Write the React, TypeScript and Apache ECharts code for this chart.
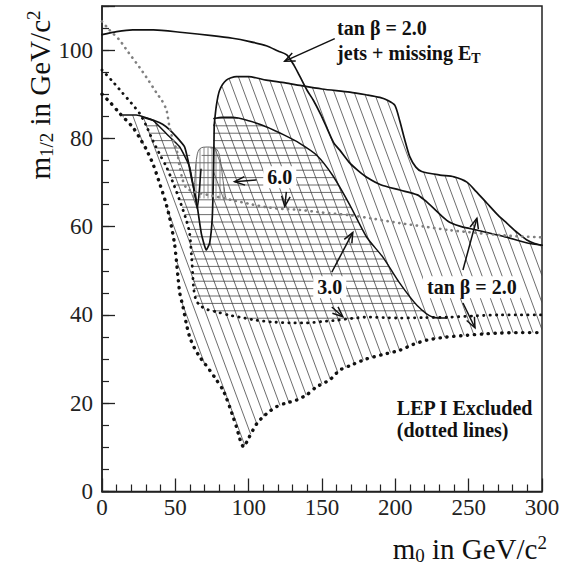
import React, { useEffect, useRef } from "react";
import * as echarts from "echarts";

type P = [number, number];

// ---------- data (m0, m1/2) in GeV/c^2 ----------
const xTickValues = [0, 50, 100, 150, 200, 250, 300];
const yTickValues = [0, 20, 40, 60, 80, 100];

// tan beta = 2.0, jets + missing ET limit
const jetsLimit: P[] = [
  [0, 103.5], [10, 104.2], [21, 104.6], [35, 104.6], [55, 104], [75, 103.3], [89, 102.7],
  [100, 102], [112, 101], [120, 99.8], [126, 98.9], [131, 96.5], [135, 94], [140, 90.8],
  [144, 88.7], [149, 85.5], [153, 82.6], [158, 79], [162, 77.4], [169, 74.4], [175, 72.6],
  [180.5, 71.2], [190, 69.5], [203, 68.3], [215, 67.2], [220, 66], [226, 64.2], [232, 62.3],
  [237, 61], [245, 60], [256, 59.2], [266, 58.4], [276, 57.6], [290, 56.3], [300, 55.8],
];

// upper boundary of the diagonal-hatched region
const hatchTop: P[] = [
  [76.5, 83], [78, 87.5], [80.2, 90.9], [84.8, 93.2], [91.6, 94], [100, 94], [112, 93.2],
  [125, 92.6], [135, 92], [150, 91.2], [169, 90.5], [180, 89.9], [189.4, 89.3], [195, 88.6],
  [199.7, 87.5], [203, 84], [206.5, 79.6], [209.9, 75.8], [214, 73.5], [218, 72.5],
  [230.4, 71.7], [240, 71.3], [248.8, 70.1], [255, 68], [262.5, 65.3], [270, 62.6],
  [276, 60.8], [283, 58.7], [289.7, 57], [295, 56.2], [300, 55.8],
];

// deep dip curve
const dipCurve: P[] = [
  [30, 84.6], [36, 84], [41.3, 83.2], [46, 82], [50.6, 80.4], [56.3, 78.1], [58.6, 75.1],
  [61, 71], [64.3, 66], [67.7, 58.5], [71.1, 54.7], [73.4, 56.3], [75.2, 62.2], [76.1, 73.6],
  [76.5, 83],
];

// left curve with the small dip
const leftCurve: P[] = [
  [14.2, 85.3], [23.3, 85.3], [34.7, 84.1], [43.8, 81.1], [52.9, 78.1], [59.7, 73.6],
  [63.1, 67.5], [65, 64.1], [66.3, 68], [67.5, 73],
];

// tan beta = 3.0 curve
const tb3Curve: P[] = [
  [76.3, 84.5], [82, 84.8], [89, 84.8], [100, 84], [112.3, 82.6], [124, 80.8], [134.8, 78.9],
  [146.4, 76.2], [157.3, 71.6], [169, 64.9], [180.5, 57.6], [191.5, 53.1], [203, 47.2],
  [214.7, 42.2], [225.6, 39.5], [235.2, 39.3],
];

// tan beta = 6.0 small excluded bump
const bellCurve: P[] = [
  [62.5, 66.5], [63.2, 70], [64, 74], [65, 76.5], [66.5, 77.6], [69, 78], [75, 78],
  [78, 77.6], [79.8, 76.5], [81.2, 74], [82.5, 70.5], [83.8, 67.5], [84.7, 66.2],
];

// LEP I limits (dotted)
const lepGray: P[] = [
  [0, 106.5], [5, 104.6], [11.9, 102.3], [18, 99.5], [25.6, 96.1], [32, 93], [37.2, 90.3],
  [41, 88.5], [44, 86.4], [46, 82.6], [48.5, 79.5], [50.9, 77.4], [53, 73.5], [55, 70.6],
  [57, 69], [59.7, 68.3], [66.6, 67.6], [78, 66.8], [89, 66], [100, 65.2], [112.3, 64.4],
  [124, 64], [134.8, 63.8], [150, 63.2], [169, 62.6], [185, 61.8], [203, 60.8], [220, 60],
  [237.2, 59.2], [255, 58.6], [271.3, 58.1], [285, 57.8], [300, 57.6],
];
const lepMid: P[] = [
  [0, 95.5], [7, 93], [14, 90.3], [20, 88], [25.6, 85.7], [30, 83], [34.5, 79.6], [40, 76],
  [44, 73.5], [49, 69.5], [52.9, 66], [57, 62], [59.7, 58.6], [61, 53.5], [61.8, 49.5],
  [62.5, 46], [64, 43.5], [66.6, 42.2], [72, 41.2], [78, 40.7], [86, 40], [93.9, 39.5],
  [105, 38.8], [116.4, 38.4], [130, 38.2], [139.6, 38.2], [150, 38.5], [160, 38.8],
  [170, 39.2], [180.5, 39.5], [192, 39.4], [203, 39.3], [220, 39.4], [237, 39.5],
  [255, 39.8], [271, 40], [285, 40], [300, 40],
];
const lepLow: P[] = [
  [0, 90], [6, 88], [12, 85.7], [20.8, 82.6], [25, 80.5], [30.4, 77.4], [35, 74], [39.2, 69.9],
  [43, 66], [46, 62.2], [49.5, 56], [51.7, 49], [53, 45], [55.2, 41.9], [57.5, 38], [59.7, 35.1],
  [63, 32.5], [66.6, 30.5], [70, 29], [73.4, 27.5], [78, 25.3], [82.5, 23], [85, 21], [87, 19.2],
  [89.5, 16.8], [91.6, 14.7], [93.5, 12.5], [95, 10.9], [96.6, 10.1], [99.5, 11.8],
  [102.9, 13.9], [106, 15.6], [109.8, 16.9], [114, 18.1], [118.9, 19.2], [125, 20],
  [132.6, 20.7], [140, 22], [146.2, 23.7], [155.3, 25.3], [162.1, 27.5], [169, 28.5],
  [180, 30], [191, 31], [203, 32], [212, 33.3], [221.5, 34.3], [235, 35], [248.8, 35.4],
  [260, 35.7], [271, 35.9], [285, 36], [300, 36],
];

// annotations: arrows [x1, y1, x2(tip), y2(tip)] and labels
const arrows: number[][] = [
  [158.7, 102.6, 124.6, 97.5],
  [105.3, 70.6, 90.4, 70.2],
  [125.7, 67.9, 124.6, 64.6],
  [156.7, 49.7, 171, 58.7],
  [156.7, 41.8, 164.2, 39.6],
  [246.1, 50.2, 255.6, 61.9],
  [246.1, 42.7, 254.3, 37.1],
];
const labelPos: P[] = [
  [160.3, 105], [160.3, 99.3], [121.2, 71.2], [155.3, 46.3], [252.2, 46.3], [201, 18.9], [201, 13.9],
];
const labelText = [
  "tan β = 2.0",
  "{b|jets + missing E}{s|T}",
  "6.0",
  "3.0",
  "tan β = 2.0",
  "LEP I Excluded",
  "(dotted lines)",
];
const labelAlign = ["left", "left", "center", "center", "center", "left", "left"];
const labelBg = [false, false, true, true, true, false, false];

// ---------- helpers ----------
function hatch(poly: P[], mode: string, spacing: number, k = 0.37): number[][] {
  const u = (p: P) => (mode === "h" ? p[1] : mode === "v" ? p[0] : p[0] - k * p[1]);
  const s = (p: P) => (mode === "h" ? p[0] : p[1]);
  let umin = Infinity;
  let umax = -Infinity;
  poly.forEach((p) => {
    const v = u(p);
    umin = Math.min(umin, v);
    umax = Math.max(umax, v);
  });
  const segs: number[][] = [];
  for (let c = Math.ceil(umin / spacing) * spacing + 0.01; c <= umax; c += spacing) {
    const pts: P[] = [];
    for (let i = 0; i < poly.length; i++) {
      const a = poly[i];
      const b = poly[(i + 1) % poly.length];
      const ua = u(a);
      const ub = u(b);
      if ((ua <= c && ub > c) || (ub <= c && ua > c)) {
        const t = (c - ua) / (ub - ua);
        pts.push([a[0] + t * (b[0] - a[0]), a[1] + t * (b[1] - a[1])]);
      }
    }
    pts.sort((p, q) => s(p) - s(q));
    for (let i = 0; i + 1 < pts.length; i += 2) {
      segs.push([pts[i][0], pts[i][1], pts[i + 1][0], pts[i + 1][1]]);
    }
  }
  return segs;
}

function regionSeries(poly: P[], mode: string, spacing: number, z: number, color: string, outline?: string) {
  return {
    type: "custom",
    z,
    silent: true,
    clip: true,
    data: [[0, 0]],
    renderItem: (_params: any, api: any) => {
      const px: P[] = poly.map((p) => api.coord(p) as P);
      const segs = hatch(px, mode, spacing);
      const children: any[] = segs.map((s) => ({
        type: "line",
        shape: { x1: s[0], y1: s[1], x2: s[2], y2: s[3] },
        style: { stroke: color, lineWidth: 0.75 },
      }));
      if (outline) {
        children.push({
          type: "polyline",
          shape: { points: px, smooth: 0.3 },
          style: { stroke: outline, lineWidth: 1, fill: "none" },
        });
      }
      return { type: "group", children };
    },
  };
}

const diagRegion: P[] = [
  ...leftCurve.slice(0, 6),
  ...dipCurve.filter((p) => p[0] > 60),
  ...hatchTop.slice(1),
  ...lepLow.slice().reverse().filter((p) => p[0] >= 12),
];
const horizRegion: P[] = [
  [25.6, 85.4], [34.7, 84.1], [43.8, 81.1], [52.9, 78.1], [58, 76.5], [64, 75.5], [70, 76.5],
  [75.8, 78.5],
  ...tb3Curve,
  ...lepMid.slice().reverse().filter((p) => p[0] < 235 && p[0] > 25.6),
];

function lineSeries(data: P[], color: string, width: number, dash: any, z: number, smooth = 0.25) {
  return {
    type: "line",
    data,
    z,
    symbol: "none",
    smooth,
    silent: true,
    lineStyle: { color, width, type: dash, cap: "round", join: "round" },
  };
}

const SERIF = '"Liberation Serif", "Times New Roman", serif';
const titleRich = {
  m: { fontFamily: SERIF, fontSize: 29, fill: "#111" },
  s: { fontFamily: SERIF, fontSize: 19, padding: [13, 0, 0, 0], fill: "#111" },
  p: { fontFamily: SERIF, fontSize: 19, padding: [0, 0, 13, 0], fill: "#111" },
};

export default function App() {
  const ref = useRef<HTMLDivElement>(null);
  useEffect(() => {
    if (!ref.current) return;
    const chart = echarts.init(ref.current, undefined, { renderer: "svg" });
    const option: any = {
      animation: false,
      backgroundColor: "#fff",
      grid: {
        left: 102, right: 28, top: 6, bottom: 76.5,
        show: true, borderColor: "#222", borderWidth: 1.5, backgroundColor: "transparent",
      },
      xAxis: {
        type: "value", min: 0, max: 300, interval: 50,
        axisLine: { lineStyle: { color: "#222", width: 1.5 } },
        axisTick: { inside: true, length: 13, lineStyle: { color: "#222", width: 1.3 } },
        minorTick: { show: true, splitNumber: 5, length: 7, lineStyle: { color: "#222", width: 1.2 } },
        splitLine: { show: false },
        minorSplitLine: { show: false },
        axisLabel: {
          fontFamily: SERIF, fontSize: 23, color: "#222", margin: 4,
          formatter: (v: number) => (xTickValues.includes(v) ? String(v) : ""),
        },
      },
      yAxis: [
        {
          type: "value", min: 0, max: 110, interval: 20, position: "left",
          axisLine: { show: true, lineStyle: { color: "#222", width: 1.5 } },
          axisTick: { inside: true, length: 13, lineStyle: { color: "#222", width: 1.3 } },
          splitLine: { show: false },
          axisLabel: {
            fontFamily: SERIF, fontSize: 23, color: "#222", margin: 9,
            formatter: (v: number) => (yTickValues.includes(v) ? String(v) : ""),
          },
        },
        {
          type: "value", min: 0, max: 110, interval: 5, position: "left",
          axisLine: { show: false },
          axisTick: { inside: true, length: 7, lineStyle: { color: "#222", width: 1.2 } },
          splitLine: { show: false },
          axisLabel: { show: false },
        },
      ],
      graphic: [
        {
          type: "text", x: 547, y: 549,
          style: {
            text: "{m|m}{s|0}{m| in GeV/c}{p|2}", align: "right", verticalAlign: "middle", fill: "#111",
            rich: titleRich,
          },
        },
        {
          type: "text", x: 40, y: 95, rotation: Math.PI / 2,
          style: {
            text: "{m|m}{s|1/2}{m| in GeV/c}{p|2}", align: "center", verticalAlign: "middle", fill: "#111",
            rich: titleRich,
          },
        },
      ],
      series: [
        regionSeries(diagRegion, "d", 10, 1, "#3c3c3c"),
        regionSeries(horizRegion, "h", 7.4, 2, "#3c3c3c"),
        regionSeries(bellCurve, "v", 4, 3, "#666", "#666"),
        lineSeries(jetsLimit, "#111", 1.7, "solid", 5),
        lineSeries(hatchTop, "#111", 1.7, "solid", 5),
        lineSeries(dipCurve, "#111", 1.7, "solid", 5, 0.15),
        lineSeries(leftCurve, "#111", 1.5, "solid", 5, 0.15),
        lineSeries(tb3Curve, "#111", 1.5, "solid", 5),
        lineSeries(lepGray, "#808080", 2.6, [0.3, 5.6], 6),
        lineSeries(lepMid, "#111", 2.8, [0.3, 6], 6),
        lineSeries(lepLow, "#111", 3.4, [0.3, 6.6], 6),
        {
          type: "custom", z: 8, silent: true, clip: false,
          data: labelPos,
          renderItem: (params: any, api: any) => {
            const i = params.dataIndex;
            const p = api.coord(labelPos[i]);
            const isRich = labelText[i].indexOf("{b|") === 0;
            const style: any = {
              text: labelText[i],
              fontFamily: SERIF, fontSize: 20, fontWeight: "bold", fill: "#111",
              align: labelAlign[i], verticalAlign: "middle",
            };
            if (isRich) {
              style.rich = {
                b: { fontFamily: SERIF, fontSize: 20, fontWeight: "bold", fill: "#111" },
                s: { fontFamily: SERIF, fontSize: 14, fontWeight: "bold", fill: "#111", padding: [10, 0, 0, 0] },
              };
            }
            if (labelBg[i]) {
              style.backgroundColor = "#fff";
              style.padding = [1, 4, 1, 4];
            }
            return { type: "text", x: p[0], y: p[1], style };
          },
        },
        {
          type: "custom", z: 9, silent: true, clip: false,
          data: arrows,
          renderItem: (params: any, api: any) => {
            const a = arrows[params.dataIndex];
            const p1 = api.coord([a[0], a[1]]);
            const p2 = api.coord([a[2], a[3]]);
            const ang = Math.atan2(p2[1] - p1[1], p2[0] - p1[0]);
            const L = 11;
            const w = 0.4;
            const h1 = [p2[0] - L * Math.cos(ang - w), p2[1] - L * Math.sin(ang - w)];
            const h2 = [p2[0] - L * Math.cos(ang + w), p2[1] - L * Math.sin(ang + w)];
            return {
              type: "group",
              children: [
                { type: "line", shape: { x1: p1[0], y1: p1[1], x2: p2[0], y2: p2[1] }, style: { stroke: "#111", lineWidth: 1.5 } },
                { type: "polyline", shape: { points: [h1, p2, h2] }, style: { stroke: "#111", lineWidth: 1.5, fill: "none" } },
              ],
            };
          },
        },
      ],
    };
    chart.setOption(option);
    return () => chart.dispose();
  }, []);
  return (
    <div
      ref={ref}
      style={{ position: "absolute", left: 0, top: 0, width: 570, height: 568 }}
    />
  );
}
